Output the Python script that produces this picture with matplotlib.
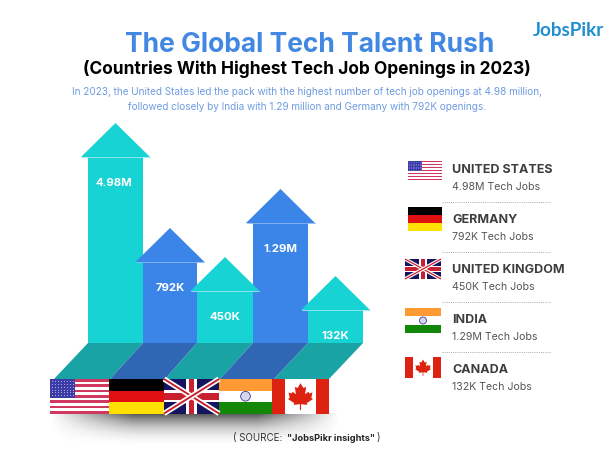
import numpy as np
import matplotlib
matplotlib.use("Agg")
import matplotlib.pyplot as plt
from matplotlib.patches import Polygon, Rectangle, Circle

countries = ["UNITED STATES", "GERMANY", "UNITED KINGDOM", "INDIA", "CANADA"]
flag_names = ["us", "de", "uk", "in", "ca"]
bar_labels = ["4.98M", "792K", "450K", "1.29M", "132K"]
job_labels = ["4.98M Tech Jobs", "792K Tech Jobs", "450K Tech Jobs", "1.29M Tech Jobs", "132K Tech Jobs"]
# drawn heights of the arrows, the picture is not to scale with the values
bar_heights = [186, 81, 52, 120, 33]

TEAL = "#17D3D3"
BLUE = "#3B84E8"
TEAL_DARK = "#1AA3A5"
BLUE_DARK = "#2F67B4"
FONT = "Inter"

BASE_Y = 344
FLOOR_Y = 380
bar_edges = [88, 143, 197, 253, 308, 363]
floor_edges = [54, 110, 165, 220, 274, 329]
flag_edges = [50, 109, 164, 219, 272, 329]


def draw_flag(ax, name, x0, y0, x1, y1):
    w = x1 - x0
    h = y1 - y0

    def rect(fx, fy, fw, fh, color):
        ax.add_patch(Rectangle((x0 + fx * w, y0 + fy * h), fw * w, fh * h, color=color, lw=0))

    def poly(pts, color):
        ax.add_patch(Polygon([(x0 + px * w, y0 + py * h) for px, py in pts], color=color, lw=0))

    if name == "us":
        rect(0, 0, 1, 1, "white")
        for i in range(0, 13, 2):
            rect(0, i / 13, 1, 1 / 13, "#D0385F")
        rect(0, 0, 0.42, 7 / 13, "#3C3CA8")
        for r in range(6):
            for c in range(8):
                ax.plot(x0 + (0.03 + c * 0.052) * w, y0 + (0.05 + r * 0.085) * h, "o", ms=w * 0.01, color="#C8C8F0", mew=0)
    elif name == "de":
        rect(0, 0, 1, 1 / 3, "black")
        rect(0, 1 / 3, 1, 1 / 3, "#E01010")
        rect(0, 2 / 3, 1, 1 / 3, "#FFE000")
    elif name == "uk":
        rect(0, 0, 1, 1, "#14145F")
        for a, b in [((0, 0), (1, 1)), ((0, 1), (1, 0))]:
            ax.plot([x0 + a[0] * w, x0 + b[0] * w], [y0 + a[1] * h, y0 + b[1] * h], color="white", lw=w * 0.07, solid_capstyle="butt")
            ax.plot([x0 + a[0] * w, x0 + b[0] * w], [y0 + a[1] * h, y0 + b[1] * h], color="#C8202F", lw=w * 0.025, solid_capstyle="butt")
        rect(0.4, 0, 0.2, 1, "white")
        rect(0, 0.33, 1, 0.34, "white")
        rect(0.45, 0, 0.1, 1, "#C8202F")
        rect(0, 0.4, 1, 0.2, "#C8202F")
    elif name == "in":
        rect(0, 0, 1, 1 / 3, "#FF9933")
        rect(0, 1 / 3, 1, 1 / 3, "white")
        rect(0, 2 / 3, 1, 1 / 3, "#138808")
        ax.add_patch(Circle((x0 + w / 2, y0 + h / 2), h * 0.14, fc="#D5D5EE", ec="#3A3A90", lw=0.6))
    else:
        rect(0, 0, 1, 1, "white")
        rect(0, 0, 0.23, 1, "#DD2211")
        rect(0.77, 0, 0.23, 1, "#DD2211")
        leaf = [(0.5, 0.12), (0.45, 0.26), (0.40, 0.23), (0.42, 0.44), (0.36, 0.37), (0.345, 0.42),
                (0.29, 0.39), (0.31, 0.55), (0.28, 0.58), (0.39, 0.70), (0.38, 0.75), (0.49, 0.73),
                (0.49, 0.90), (0.51, 0.90), (0.51, 0.73), (0.62, 0.75), (0.61, 0.70), (0.72, 0.58),
                (0.69, 0.55), (0.71, 0.39), (0.655, 0.42), (0.64, 0.37), (0.58, 0.44), (0.60, 0.23), (0.55, 0.26)]
        poly(leaf, "#DD2211")


fig = plt.figure(figsize=(6.14, 4.6), dpi=100)
ax = fig.add_axes([0, 0, 1, 1])

# soft shadow under the flags
ys = np.linspace(0, 1, 40)[:, None]
xs = np.linspace(0, 1, 120)[None, :]
shadow = np.zeros((40, 120, 4))
shadow[..., 3] = 0.68 * (1 - ys) ** 2.2 * np.clip(np.minimum(xs, 1 - xs) * 3.5, 0, 1)
ax.imshow(shadow, extent=(50, 340, 450, 414), aspect="auto", zorder=1)

# arrows
lefts = bar_edges[:-1]
widths = np.diff(bar_edges)
colors = [TEAL if i % 2 == 0 else BLUE for i in range(5)]
ax.bar(lefts, [-h for h in bar_heights], width=widths, bottom=BASE_Y, align="edge", color=colors, zorder=3)

for i, h in enumerate(bar_heights):
    left, right = bar_edges[i], bar_edges[i + 1]
    mid = (left + right) / 2
    top = BASE_Y - h
    # the head is wider than the body and overlaps the neighbours
    ax.add_patch(Polygon([(mid - 34.5, top), (mid + 34.5, top), (mid, top - 34)], color=colors[i], lw=0, zorder=4 + (i % 2 == 0)))
    ax.plot([mid - 34, mid + 34], [top, top], color="#9FE8F0" if i % 2 == 0 else "#8DB8F2", lw=0.6, zorder=5)
    ax.text(mid - (2 if i == 0 else 0), top + 25.5, bar_labels[i], color="white", fontsize=8.2, fontweight="bold",
            family=FONT, ha="center", va="center", zorder=6)
    # floor strip
    floor_color = TEAL_DARK if i % 2 == 0 else BLUE_DARK
    ax.add_patch(Polygon([(left, BASE_Y), (right, BASE_Y), (floor_edges[i + 1], FLOOR_Y), (floor_edges[i], FLOOR_Y)],
                         color=floor_color, lw=0, zorder=2))
    draw_flag(ax, flag_names[i], flag_edges[i], FLOOR_Y, flag_edges[i + 1], 414.5)

# titles
ax.text(310, 44.5, "The Global Tech Talent Rush", color="#4288E2", fontsize=19, fontweight="bold", family=FONT, ha="center", va="center")
ax.text(307, 69, "(Countries With Highest Tech Job Openings in 2023)", color="black", fontsize=12.5, fontweight="bold", family=FONT, ha="center", va="center")
ax.text(307, 92, "In 2023, the United States led the pack with the highest number of tech job openings at 4.98 million,",
        color="#6E9CE0", fontsize=7.2, family=FONT, ha="center", va="center")
ax.text(307, 106.5, "followed closely by India with 1.29 million and Germany with 792K openings.",
        color="#6E9CE0", fontsize=7.2, family=FONT, ha="center", va="center")
ax.text(568.5, 30, "JobsPikr", color="#1F8FD0", fontsize=13.6, fontweight="bold", family="Lato", ha="center", va="center")

# source line
ax.text(233, 438.5, "( SOURCE: ", color="#333333", fontsize=7, family=FONT, ha="left", va="center")
ax.text(287, 438.5, "\"JobsPikr insights\"", color="#222222", fontsize=6.6, fontweight="bold", family=FONT, ha="left", va="center")
ax.text(377, 438.5, ")", color="#333333", fontsize=7, family=FONT, ha="left", va="center")

# legend list on the right
legend_flags = [(408, 162, 442, 181), (408, 208, 442, 232), (405, 260, 441, 280), (405, 309, 441, 334), (405, 358, 441, 379)]
for i in range(5):
    x0, y0, x1, y1 = legend_flags[i]
    draw_flag(ax, flag_names[i], x0, y0, x1, y1)
    ax.text(452.5, 170 + i * 50, countries[i], color="#3D3D3D", fontsize=9, fontweight="bold", family=FONT, ha="left", va="center")
    ax.text(452.5, 187 + i * 50, job_labels[i], color="#555555", fontsize=7.6, family=FONT, ha="left", va="center")
    if i < 4:
        ax.plot([442, 551], [202.5 + i * 50, 202.5 + i * 50], color="#AAAAAA", lw=0.7, ls=(0, (1, 1.2)))

ax.set_xlim(0, 614)
ax.set_ylim(460, 0)
ax.axis("off")
fig.savefig("out.png", dpi=100)
